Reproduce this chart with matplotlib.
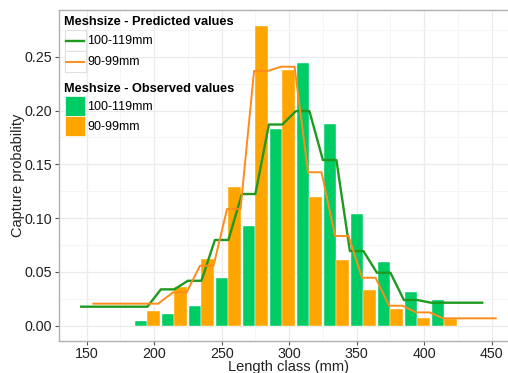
import numpy as np
import matplotlib.pyplot as plt
from matplotlib.patches import Rectangle
from matplotlib.lines import Line2D

plt.rcParams['font.family'] = ['Liberation Sans', 'DejaVu Sans']

# observed capture probability per length class (pair centre, mm)
length_class = np.array([195, 215, 235, 255, 275, 295, 315, 335, 355, 375, 395, 415])
obs_100_119 = [0.0045, 0.011, 0.0186, 0.0446, 0.0927, 0.1825, 0.2438, 0.1872, 0.1035, 0.0595, 0.031, 0.0236]
obs_90_99 = [0.014, 0.0357, 0.0617, 0.1286, 0.2788, 0.2376, 0.1199, 0.0611, 0.0332, 0.0158, 0.0074, 0.006]

# predicted curves, each as flat runs: start, end, value
pred_100_119_lo = [146, 205, 225, 245, 265, 285, 305, 325, 345, 365, 385, 405]
pred_100_119_hi = [195, 215, 235, 255, 275, 295, 315, 335, 355, 375, 395, 443]
pred_100_119 = [0.0177, 0.0338, 0.0418, 0.0797, 0.1224, 0.187, 0.1995, 0.154, 0.0694, 0.0493, 0.0239, 0.0214]

pred_90_99_lo = [155, 214, 234, 254, 274, 294, 314, 334, 354, 374, 394, 414]
pred_90_99_hi = [203, 224, 244, 264, 284, 304, 324, 344, 364, 384, 404, 453]
pred_90_99 = [0.0205, 0.031, 0.0558, 0.1085, 0.2367, 0.2407, 0.1426, 0.0834, 0.0446, 0.0186, 0.0124, 0.0069]

mesh_labels = ['100-119mm', '90-99mm']
bar_cols = ['#00CC66', '#FFA500']
line_cols = ['#1E9A1E', '#FF8C1A']
line_widths = [1.7, 1.4]

W, H = 508, 373
fig = plt.figure(figsize=(W / 100, H / 100), dpi=100)


def fx(px):
    return px / W


def fy(py):
    return 1 - py / H


x0, x1 = 129.3, 470.5
y0, y1 = -0.0139, 0.2934
ax_w = (x1 - x0) * 1.35
ax = fig.add_axes([fx(58.7), fy(340.7), ax_w / W, (340.7 - 10) / H])
ax.set_xlim(x0, x1)
ax.set_ylim(y0, y1)

# ggplot-ish grid
ax.set_xticks(np.arange(150, 451, 50))
ax.set_xticks(np.arange(175, 451, 50), minor=True)
ax.set_yticks(np.arange(0, 0.26, 0.05))
ax.set_yticks(np.arange(0.025, 0.28, 0.05), minor=True)
ax.set_yticklabels(['%.2f' % v for v in np.arange(0, 0.26, 0.05)])
ax.grid(which='major', color='#ebebeb', lw=0.9)
ax.grid(which='minor', color='#f4f4f4', lw=0.6)
ax.set_axisbelow(True)
for s in ax.spines.values():
    s.set_color('#b0b0b0')
    s.set_linewidth(1.0)
ax.tick_params(which='major', length=3, color='#555555', labelsize=10.3, labelcolor='#222222', pad=1.5)
ax.tick_params(which='minor', length=0)

bw = 9
ax.bar(length_class - bw / 2, obs_100_119, width=bw, color=bar_cols[0], edgecolor='white', linewidth=0.3)
ax.bar(length_class + bw / 2, obs_90_99, width=bw, color=bar_cols[1], edgecolor='white', linewidth=0.3)


def runs(lo, hi, val):
    xs = np.column_stack([lo, hi]).ravel()
    ys = np.repeat(val, 2)
    return xs, ys


xs, ys = runs(pred_100_119_lo, pred_100_119_hi, pred_100_119)
ax.plot(xs, ys, color=line_cols[0], lw=line_widths[0])
xs, ys = runs(pred_90_99_lo, pred_90_99_hi, pred_90_99)
ax.plot(xs, ys, color=line_cols[1], lw=line_widths[1])

# axis titles placed in figure pixels
fig.text(fx(288), fy(366.7), 'Length class (mm)', fontsize=10.5, color='#222222',
         ha='center', va='center')
fig.text(fx(18.3), fy(175), 'Capture probability', fontsize=10.5, color='#222222',
         ha='center', va='center', rotation=90)

# legends, drawn by hand in figure pixels
fig.text(fx(64), fy(22), 'Meshsize - Predicted values', fontsize=9.2, fontweight='bold',
         va='center', ha='left')
for i, (lab, col, lw) in enumerate(zip(mesh_labels, line_cols, line_widths)):
    top = 30.5 + i * 20.5
    fig.add_artist(Rectangle((fx(64.5), fy(top + 20.5)), 21 / W, 20.5 / H, transform=fig.transFigure,
                             facecolor='white', edgecolor='#e0e0e0', lw=0.8))
    fig.add_artist(Line2D([fx(66), fx(84)], [fy(top + 10.5)] * 2, transform=fig.transFigure,
                          color=col, lw=lw))
    fig.text(fx(87), fy(top + 11), lab, fontsize=9, va='center', ha='left')

fig.text(fx(64), fy(89), 'Meshsize - Observed values', fontsize=9.2, fontweight='bold',
         va='center', ha='left')
for i, (lab, col) in enumerate(zip(mesh_labels, bar_cols)):
    top = 96 + i * 20.3
    fig.add_artist(Rectangle((fx(64.5), fy(top + 19.5)), 20 / W, 19.5 / H, transform=fig.transFigure,
                             facecolor=col, edgecolor='white', lw=0.5))
    fig.text(fx(87), fy(top + 10.5), lab, fontsize=9, va='center', ha='left')

fig.savefig('out.png', dpi=100)
